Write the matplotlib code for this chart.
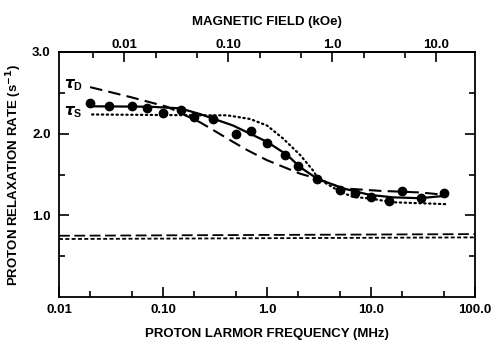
import numpy as np
import matplotlib
matplotlib.use("Agg")
import matplotlib.pyplot as plt
from matplotlib.ticker import FixedLocator, NullFormatter, FixedFormatter

plt.rcParams['font.family'] = ['Liberation Sans', 'DejaVu Sans']
plt.rcParams['font.weight'] = 'bold'

# Measured data points (proton Larmor frequency in MHz, relaxation rate in s^-1)
freq_pts = [0.02, 0.03, 0.05, 0.07, 0.1, 0.15, 0.2, 0.3, 0.5, 0.7, 1.0, 1.5,
            2.0, 3.0, 5.0, 7.0, 10.0, 15.0, 20.0, 30.0, 50.0]
rate_pts = [2.37, 2.335, 2.335, 2.31, 2.25, 2.29, 2.21, 2.18, 2.00, 2.03, 1.89, 1.74,
            1.61, 1.445, 1.31, 1.27, 1.225, 1.18, 1.30, 1.21, 1.27]

# Fit curve through data (solid)
fit_f = [0.0203, 0.075, 0.146, 0.227, 0.471, 1.0, 1.56, 2.08, 3.03, 5.38, 9.77, 16.3, 29.6, 52.6]
fit_r = [2.335, 2.33, 2.31, 2.24, 2.10, 1.90, 1.74, 1.59, 1.45, 1.33, 1.25, 1.22, 1.21, 1.24]

# tau_D curve (long dashes)
tauD_f = [0.0199, 0.048, 0.109, 0.227, 0.471, 0.643, 1.0, 2.08, 3.03, 5.38, 12.2, 29.6, 52.6]
tauD_r = [2.57, 2.45, 2.33, 2.14, 1.90, 1.80, 1.675, 1.51, 1.45, 1.33, 1.30, 1.28, 1.25]

# tau_S curve (dotted)
tauS_f = [0.0208, 0.227, 0.412, 0.687, 1.0, 1.43, 2.08, 2.77, 3.09, 5.04, 6.71, 9.77, 16.3, 52.6]
tauS_r = [2.235, 2.225, 2.225, 2.18, 2.10, 1.94, 1.74, 1.55, 1.45, 1.29, 1.226, 1.206, 1.16, 1.137]

# Horizontal baselines
base_f = [0.01, 100.0]
baseD_r = [0.75, 0.77]
baseS_r = [0.71, 0.73]

xticks = [0.01, 0.1, 1.0, 10.0, 100.0]
xticklabels = ["0.01", "0.10", "1.0", "10.0", "100.0"]
yticks = [1.0, 2.0, 3.0]
yticklabels = ["1.0", "2.0", "3.0"]
top_ticks = [0.01, 0.1, 1.0, 10.0]
top_labels = ["0.01", "0.10", "1.0", "10.0"]
KOE_TO_MHZ = 4.258

fig = plt.figure(figsize=(4.92, 3.41), dpi=100)
ax = fig.add_axes([59/492, 1-297/341, (475-59)/492, (297-52)/341])

ax.plot(fit_f, fit_r, color='black', lw=1.6, solid_capstyle='round')
ax.plot(freq_pts, rate_pts, 'o', color='black', ms=6, ls='none')
ax.plot(tauD_f, tauD_r, color='black', lw=1.5, dashes=(6, 3))
ax.plot(tauS_f, tauS_r, color='black', lw=1.6, dashes=(0.6, 1.6), dash_capstyle='round')
ax.plot(base_f, baseD_r, color='black', lw=1.3, dashes=(6, 2.5))
ax.plot(base_f, baseS_r, color='black', lw=1.3, dashes=(2.2, 1.3))

ax.set_xscale('log')
ax.set_xlim(0.01, 100)
ax.set_ylim(0, 3.0)

ax.xaxis.set_major_locator(FixedLocator(xticks))
ax.xaxis.set_major_formatter(FixedFormatter(xticklabels))
minor_x = [m * 10.0**e for e in range(-2, 2) for m in (2, 5)]
ax.xaxis.set_minor_locator(FixedLocator(minor_x))
ax.xaxis.set_minor_formatter(NullFormatter())

ax.yaxis.set_major_locator(FixedLocator(yticks))
ax.yaxis.set_major_formatter(FixedFormatter(yticklabels))
ax.yaxis.set_minor_locator(FixedLocator([0.5, 1.5, 2.5]))

ax.tick_params(axis='x', which='major', direction='in', length=7, width=1.2,
               labelsize=9.5, pad=5, top=False)
ax.tick_params(axis='x', which='minor', direction='in', length=4, width=1.2, top=False)
ax.tick_params(axis='y', which='major', direction='in', length=7, width=1.2,
               labelsize=9.5, pad=6, right=True)
ax.tick_params(axis='y', which='minor', direction='in', length=4, width=1.2, right=True)

for s in ax.spines.values():
    s.set_linewidth(1.3)

sec = ax.secondary_xaxis('top', functions=(lambda f: f / KOE_TO_MHZ, lambda k: k * KOE_TO_MHZ))
sec.set_xscale('log')
sec.xaxis.set_major_locator(FixedLocator(top_ticks))
sec.xaxis.set_major_formatter(FixedFormatter(top_labels))
minor_top = [0.005, 0.02, 0.05, 0.2, 0.5, 2, 5]
sec.xaxis.set_minor_locator(FixedLocator(minor_top))
sec.xaxis.set_minor_formatter(NullFormatter())
sec.tick_params(axis='x', which='major', direction='in', length=7, width=1.2, labelsize=9.5, pad=1)
sec.tick_params(axis='x', which='minor', direction='in', length=4, width=1.2)
sec.spines['top'].set_linewidth(1.3)
sec.set_xlabel('MAGNETIC FIELD (kOe)', fontsize=9.5, fontweight='bold', labelpad=10)

ax.set_xlabel('PROTON LARMOR FREQUENCY (MHz)', fontsize=9.5, fontweight='bold', labelpad=9)
ax.set_ylabel('PROTON RELAXATION RATE (s$^{\\mathbf{-1}}$)', fontsize=9.5, fontweight='bold', labelpad=6)

ax.text(0.0112, 2.59, r'$\tau_{\mathregular{D}}$', fontsize=11, ha='left', va='center')
ax.text(0.0112, 2.26, r'$\tau_{\mathregular{S}}$', fontsize=11, ha='left', va='center')

fig.savefig('out.png', dpi=100)
